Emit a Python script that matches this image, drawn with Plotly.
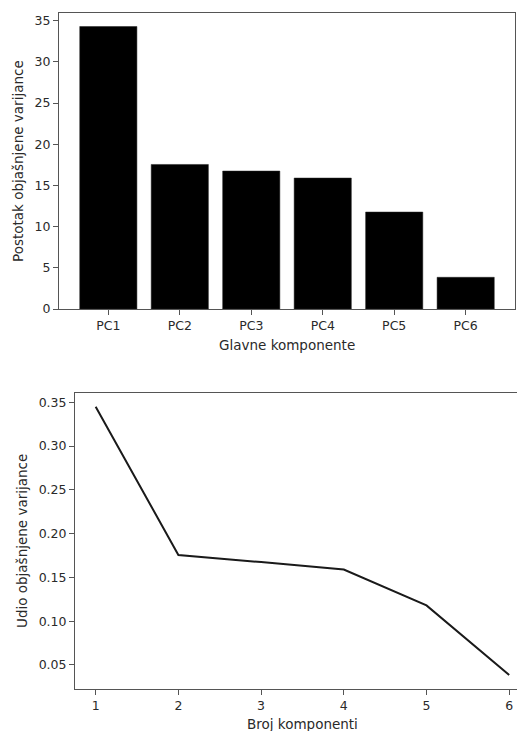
import plotly.graph_objects as go

categories = ["PC1", "PC2", "PC3", "PC4", "PC5", "PC6"]
pct_values = [34.3, 17.55, 16.75, 15.9, 11.77, 3.85]
n_components = [1, 2, 3, 4, 5, 6]
ratio_values = [0.345, 0.1756, 0.1675, 0.159, 0.118, 0.0386]

W, H = 517, 731
FONT = "DejaVu Sans"
TXT = "#2a2a2a"
AX = "#555555"

fig = go.Figure()
fig.add_trace(go.Bar(x=list(range(len(categories))), y=pct_values, width=0.8,
                     marker=dict(color="black", line=dict(color="#222", width=0.5)),
                     xaxis="x", yaxis="y", showlegend=False))
fig.add_trace(go.Scatter(x=n_components, y=ratio_values, mode="lines",
                         line=dict(color="#1a1a1a", width=2),
                         xaxis="x2", yaxis="y2", showlegend=False, cliponaxis=False))

def px_x(p):
    return p / W

def px_y(p):
    return 1 - p / H

common = dict(showgrid=False, zeroline=False, showline=True, linecolor=AX, linewidth=1,
              ticks="outside", ticklen=5, tickwidth=1, tickcolor=AX, automargin=False,
              tickfont=dict(family=FONT, size=12.5, color=TXT))
TF = dict(family=FONT, size=13.5, color=TXT)

def title(text, x, y, angle=0):
    return dict(text=text, x=px_x(x), y=px_y(y), xref="paper", yref="paper",
                xanchor="center", yanchor="middle", showarrow=False,
                textangle=angle, font=TF)

fig.update_layout(
    width=W, height=H, margin=dict(l=0, r=0, t=0, b=0, autoexpand=False),
    paper_bgcolor="white", plot_bgcolor="white",
    font=dict(family=FONT, size=13, color=TXT),
    xaxis=dict(domain=[px_x(59), px_x(515)], anchor="y", range=[-0.69, 5.69],
               tickmode="array", tickvals=list(range(len(categories))), ticktext=categories,
               mirror=True, **common),
    yaxis=dict(domain=[px_y(309), px_y(13)], anchor="x", range=[0, 35.94],
               tickvals=[0, 5, 10, 15, 20, 25, 30, 35], mirror=True, **common),
    xaxis2=dict(domain=[px_x(75), 1.0], anchor="y2", range=[0.75, 1 + (517 - 95.7) / 82.7],
                tickvals=n_components, mirror=True, **common),
    yaxis2=dict(domain=[px_y(689.3), px_y(393.3)], anchor="x2", range=[0.0222, 0.3603],
                tickvals=[0.05, 0.10, 0.15, 0.20, 0.25, 0.30, 0.35], tickformat=".2f",
                mirror=False, **common),
    annotations=[
        title("Glavne komponente", 287, 345),
        title("Postotak objašnjene varijance", 18, 161, -90),
        title("Broj komponenti", 302.5, 724),
        title("Udio objašnjene varijance", 22, 541, -90),
    ],
)

fig.write_html("out.html", config={"displayModeBar": False},
               post_script="document.body.style.margin='0';document.body.style.overflow='hidden';")
